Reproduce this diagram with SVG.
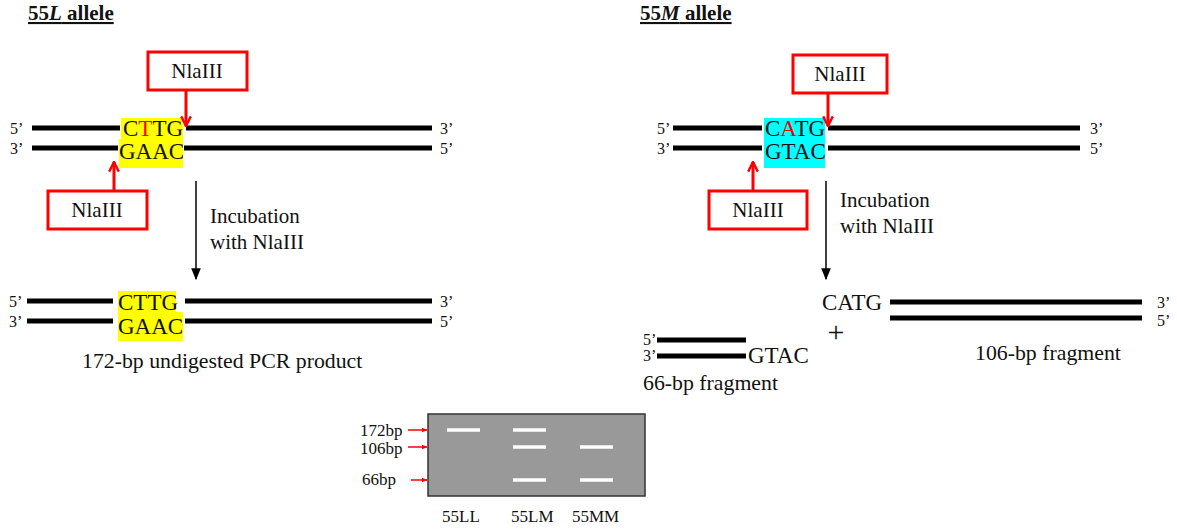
<svg xmlns="http://www.w3.org/2000/svg" width="1177" height="529" viewBox="0 0 1177 529" font-family="'Liberation Serif', 'Times New Roman', serif">
<style>
text{font-family:'Liberation Serif','Times New Roman',serif;fill:#111}
.t{font-family:'Liberation Serif',serif;font-size:21px}
.title{font-family:'Liberation Serif',serif;font-size:21px;font-weight:bold;text-decoration:underline}
.end{font-family:'Liberation Serif',serif;font-size:16px}
.seq{font-family:'Liberation Serif',serif;font-size:23px}
.lbl{font-family:'Liberation Serif',serif;font-size:21.8px}
.gel{font-family:'Liberation Serif',serif;font-size:17px}
.strand{stroke:#000;stroke-width:5;fill:none}
.box{fill:#fff;stroke:#f00;stroke-width:3}
.rarrow{stroke:#f00;stroke-width:3;fill:none}
.karrow{stroke:#000;stroke-width:1.5;fill:none}
.band{stroke:#fff;stroke-width:3.5}
</style>
<defs>
<marker id="rh" viewBox="0 0 10 10" refX="9" refY="5" markerWidth="4" markerHeight="4" orient="auto" markerUnits="strokeWidth"><path d="M1,1 L9,5 L1,9" fill="none" stroke="#f00" stroke-width="2"/></marker>
<marker id="kh" viewBox="0 0 10 10" refX="9" refY="5" markerWidth="8" markerHeight="8" orient="auto" markerUnits="strokeWidth"><path d="M0,1 L10,5 L0,9 Z" fill="#000"/></marker>
<marker id="sh" viewBox="0 0 10 10" refX="9" refY="5" markerWidth="4" markerHeight="4" orient="auto" markerUnits="strokeWidth"><path d="M0,1 L10,5 L0,9 Z" fill="#f00"/></marker>
</defs>

<!-- Titles -->
<text x="28" y="20" class="title">55<tspan font-style="italic">L</tspan> allele</text>
<text x="640" y="20" class="title">55<tspan font-style="italic">M</tspan> allele</text>

<!-- Left allele -->
<g id="left-dna">
<rect x="121" y="118" width="62" height="21" fill="#ff0"/>
<rect x="119" y="139" width="64" height="29" fill="#ff0"/>
<line class="strand" x1="32" y1="128" x2="120" y2="128"/>
<line class="strand" x1="186" y1="128" x2="432" y2="128"/>
<line class="strand" x1="32" y1="148" x2="118" y2="148"/>
<line class="strand" x1="184" y1="148" x2="432" y2="148"/>
<text x="10" y="134" class="end">5’</text>
<text x="10" y="154" class="end">3’</text>
<text x="440" y="134" class="end">3’</text>
<text x="440" y="154" class="end">5’</text>
<text x="123" y="136" class="seq">C<tspan fill="#f00">T</tspan>TG</text>
<text x="119" y="159" class="seq">GAAC</text>
</g>
<g id="left-enzyme-top">
<rect class="box" x="148" y="52" width="99" height="38"/>
<text x="197" y="78" class="t" text-anchor="middle">NlaIII</text>
</g>
<g id="left-enzyme-bottom">
<rect class="box" x="48" y="191" width="99" height="38"/>
<text x="97" y="217" class="t" text-anchor="middle">NlaIII</text>
</g>
<g id="left-incubation">
<text x="210" y="223" class="t">Incubation</text>
<text x="210" y="249" class="t">with NlaIII</text>
</g>
<g id="left-product">
<rect x="118" y="291" width="58" height="21" fill="#ff0"/>
<rect x="118" y="312" width="65" height="29" fill="#ff0"/>
<line class="strand" x1="27" y1="301" x2="113" y2="301"/>
<line class="strand" x1="185" y1="301" x2="432" y2="301"/>
<line class="strand" x1="27" y1="321" x2="113" y2="321"/>
<line class="strand" x1="185" y1="321" x2="432" y2="321"/>
<text x="9" y="307" class="end">5’</text>
<text x="9" y="327" class="end">3’</text>
<text x="440" y="307" class="end">3’</text>
<text x="440" y="327" class="end">5’</text>
<text x="118" y="310" class="seq">CTTG</text>
<text x="118" y="334" class="seq">GAAC</text>
<text x="82" y="368" class="lbl">172-bp undigested PCR product</text>
</g>

<!-- Right allele -->
<g id="right-dna">
<rect x="764" y="118" width="61" height="50" fill="#0ff"/>
<line class="strand" x1="673" y1="128" x2="762" y2="128"/>
<line class="strand" x1="828" y1="128" x2="1080" y2="128"/>
<line class="strand" x1="673" y1="148" x2="762" y2="148"/>
<line class="strand" x1="828" y1="148" x2="1080" y2="148"/>
<text x="657" y="134" class="end">5’</text>
<text x="657" y="154" class="end">3’</text>
<text x="1090" y="134" class="end">3’</text>
<text x="1090" y="154" class="end">5’</text>
<text x="765" y="136" class="seq">C<tspan fill="#e00">A</tspan>TG</text>
<text x="765" y="159" class="seq">GTAC</text>
</g>
<g id="right-enzyme-top">
<rect class="box" x="793" y="55" width="94" height="38"/>
<text x="840" y="81" class="t" text-anchor="middle">NlaIII</text>
</g>
<g id="right-enzyme-bottom">
<rect class="box" x="709" y="191" width="98" height="38"/>
<text x="758" y="217" class="t" text-anchor="middle">NlaIII</text>
</g>
<g id="right-incubation">
<text x="840" y="207" class="t">Incubation</text>
<text x="840" y="233" class="t">with NlaIII</text>
</g>
<g id="fragment-106">
<text x="822" y="310" class="seq">CATG</text>
<text x="836" y="342" font-size="30" text-anchor="middle">+</text>
<line class="strand" x1="890" y1="302" x2="1142" y2="302"/>
<line class="strand" x1="890" y1="318" x2="1142" y2="318"/>
<text x="1157" y="308" class="end">3’</text>
<text x="1157" y="326" class="end">5’</text>
<text x="975" y="360" class="lbl">106-bp fragment</text>
</g>
<g id="fragment-66">
<line class="strand" x1="657" y1="340" x2="746" y2="340"/>
<line class="strand" x1="657" y1="356" x2="746" y2="356"/>
<text x="643" y="345" class="end">5’</text>
<text x="643" y="361" class="end">3’</text>
<text x="748" y="363" class="seq">GTAC</text>
<text x="643" y="390" class="lbl">66-bp fragment</text>
</g>

<!-- Gel -->
<g id="gel">
<rect x="428" y="414" width="217" height="82" fill="#999" stroke="#333" stroke-width="1.5"/>
<line class="band" x1="447" y1="430" x2="480" y2="430"/>
<line class="band" x1="513" y1="430" x2="546" y2="430"/>
<line class="band" x1="513" y1="447" x2="546" y2="447"/>
<line class="band" x1="513" y1="480" x2="546" y2="480"/>
<line class="band" x1="580" y1="447" x2="613" y2="447"/>
<line class="band" x1="580" y1="480" x2="613" y2="480"/>
<text x="360" y="436" class="gel">172bp</text>
<text x="360" y="454" class="gel">106bp</text>
<text x="362" y="485" class="gel">66bp</text>
<text x="442" y="522" class="gel">55LL</text>
<text x="511" y="522" class="gel">55LM</text>
<text x="572" y="522" class="gel">55MM</text>
</g>

<!-- Connectors -->
<g id="connectors">
<line class="rarrow" x1="186" y1="90" x2="186" y2="126" marker-end="url(#rh)"/>
<line class="rarrow" x1="114" y1="191" x2="114" y2="162" marker-end="url(#rh)"/>
<line class="rarrow" x1="828" y1="93" x2="828" y2="126" marker-end="url(#rh)"/>
<line class="rarrow" x1="753" y1="191" x2="753" y2="162" marker-end="url(#rh)"/>
<line class="karrow" x1="196" y1="181" x2="196" y2="279" marker-end="url(#kh)"/>
<line class="karrow" x1="826" y1="181" x2="826" y2="279" marker-end="url(#kh)"/>
<line stroke="#f00" stroke-width="1.5" x1="408" y1="430" x2="427" y2="430" marker-end="url(#sh)"/>
<line stroke="#f00" stroke-width="1.5" x1="408" y1="447" x2="427" y2="447" marker-end="url(#sh)"/>
<line stroke="#f00" stroke-width="1.5" x1="411" y1="480" x2="427" y2="480" marker-end="url(#sh)"/>
</g>
</svg>
